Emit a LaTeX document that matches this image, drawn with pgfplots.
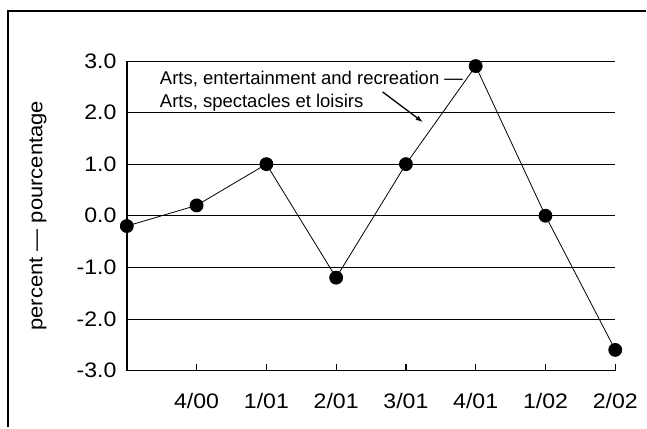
\documentclass[border=0pt]{standalone}
\usepackage{fontspec}
\setmainfont{Liberation Sans}[FakeStretch=1.1]
\newfontfamily\annfont{Liberation Sans}[Ligatures=TeX]
\usepackage{pgfplots}
\pgfplotsset{compat=1.18}

\begin{document}
\begin{tikzpicture}
\begin{axis}[
    name=ax,
    scale only axis,
    width=489bp, height=310bp,
    xmin=0, xmax=7,
    ymin=-3, ymax=3,
    axis x line*=bottom,
    axis y line*=left,
    axis line style={line width=1.5bp},
    xtick={1,...,7},
    xticklabels={4/00,1/01,2/01,3/01,4/01,1/02,2/02},
    x tick style={line width=1.2bp, black},
    tick align=inside,
    major tick length=7bp,
    xticklabel style={font=\fontsize{21bp}{24bp}\selectfont, yshift=-19bp},
    ytick={-3,-2,...,3},
    yticklabels={-3.0,-2.0,-1.0,0.0,1.0,2.0,3.0},
    y tick style={draw=none},
    yticklabel style={font=\fontsize{21bp}{24bp}\selectfont, xshift=-7bp},
    ymajorgrids,
    grid style={black, line width=0.8bp},
    ylabel={percent --- pourcentage},
    ylabel style={font=\fontsize{20bp}{23bp}\selectfont,
        at={(axis description cs:-0.182,0.5)}, anchor=center},
    clip=false,
]
\addplot[black, line width=0.8bp, mark=*, mark size=6.5bp,
    mark options={fill=black}]
    coordinates {
        (0,-0.2) (1,0.2) (2,1.0) (3,-1.2)
        (4,1.0) (5,2.9) (6,0.0) (7,-2.6)
    };
\node[anchor=base west, inner sep=0pt, font=\annfont\fontsize{18.5bp}{22bp}\selectfont]
    at (axis cs:0.472,2.535) {Arts, entertainment and recreation ---};
\node[anchor=base west, inner sep=0pt, font=\annfont\fontsize{18.5bp}{22bp}\selectfont]
    at (axis cs:0.472,2.09) {Arts, spectacles et loisirs};
\draw[-latex, line width=1.3bp] (axis cs:3.665,2.40) -- (axis cs:4.237,1.82);
\end{axis}
\draw[line width=1.6bp] ([shift={(-119bp,-57bp)}]ax.south west)
    -- ([shift={(-119bp,360bp)}]ax.south west)
    -- ([shift={(520bp,360bp)}]ax.south west);
\path ([shift={(-127bp,-57bp)}]ax.south west) rectangle ([shift={(520bp,371bp)}]ax.south west);
\end{tikzpicture}
\end{document}
